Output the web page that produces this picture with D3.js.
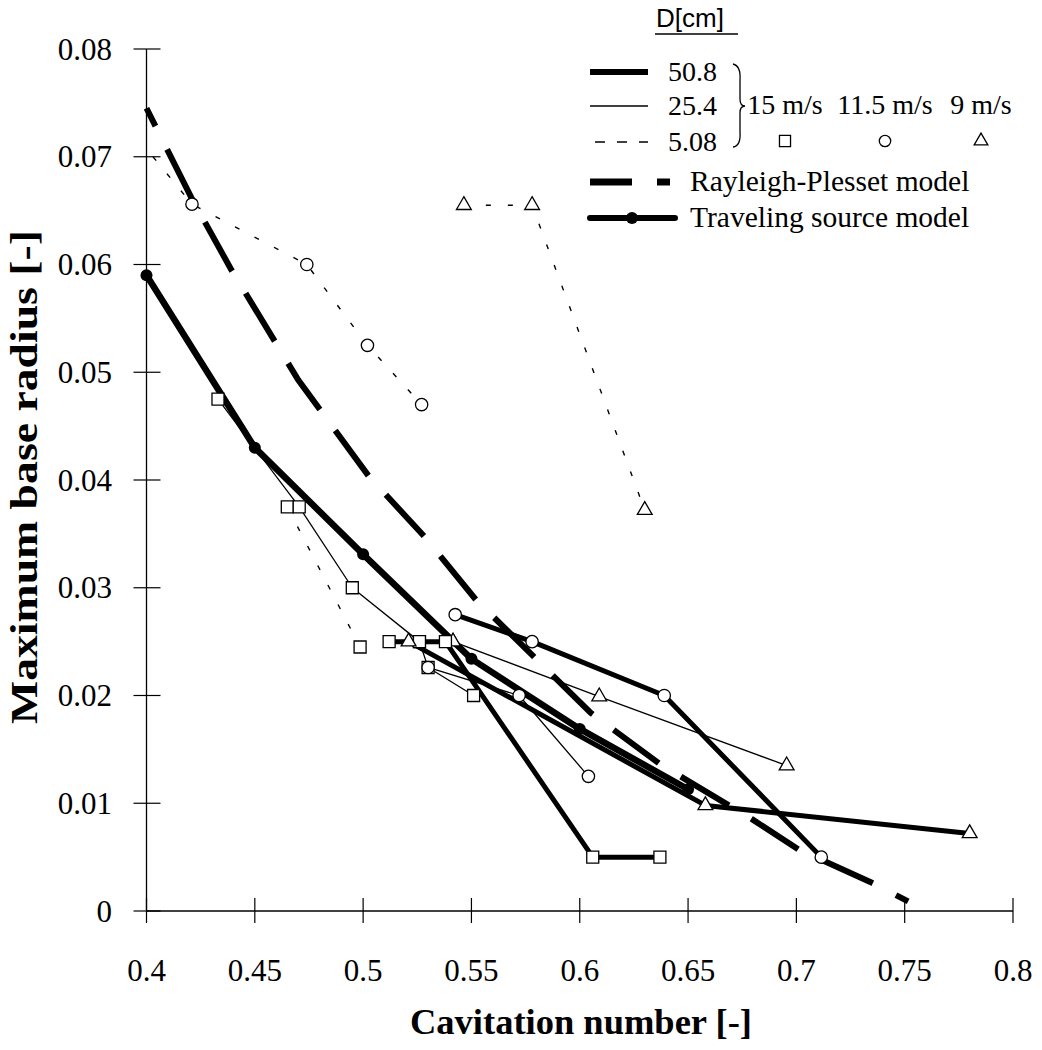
<!DOCTYPE html>
<html><head><meta charset="utf-8">
<script src="https://cdn.jsdelivr.net/npm/d3@7"></script>
<style>body{margin:0;background:#fff}</style>
</head><body><svg id="c" width="1042" height="1050"></svg>
<script>
// ---------- data ----------
const xTicks = [0.4,0.45,0.5,0.55,0.6,0.65,0.7,0.75,0.8];
const xTickLabels = ["0.4","0.45","0.5","0.55","0.6","0.65","0.7","0.75","0.8"];
const yTicks = [0,0.01,0.02,0.03,0.04,0.05,0.06,0.07,0.08];
const yTickLabels = ["0","0.01","0.02","0.03","0.04","0.05","0.06","0.07","0.08"];

// D = 50.8 cm
const sq508X = [0.512,0.526,0.538,0.606,0.637];
const sq508Y = [0.025,0.025,0.025,0.005,0.005];
const ci508X = [0.5425,0.578,0.639,0.7115];
const ci508Y = [0.0275,0.025,0.020,0.005];
const tr508X = [0.521,0.658,0.78];
const tr508Y = [0.025,0.0098,0.0072];
// D = 25.4 cm
const sq254X = [0.433,0.4705,0.495,0.526,0.530,0.551];
const sq254Y = [0.0475,0.0375,0.030,0.025,0.0226,0.020];
const ci254X = [0.530,0.572,0.604];
const ci254Y = [0.0226,0.020,0.0125];
const tr254X = [0.5415,0.609,0.6955];
const tr254Y = [0.025,0.0199,0.0135];
// D = 5.08 cm
const sq5X = [0.465,0.4986];
const sq5Y = [0.0375,0.0245];
const ci5X = [0.403,0.421,0.474,0.502,0.527];
const ci5Y = [0.0700,0.0656,0.060,0.0525,0.047];
const ci5Shown = [false,true,true,true,true];
const tr5X = [0.5465,0.578,0.630];
const tr5Y = [0.0655,0.0655,0.0372];
// models
const tsmX = [0.4,0.45,0.5,0.55,0.6,0.65];
const tsmY = [0.059,0.043,0.0331,0.0234,0.0169,0.0113];
const rpX = [0.400,0.4207,0.4392,0.470,0.5028,0.5281,0.552,0.5788,0.605,0.6373,0.6797,0.701,0.7341,0.7516];
const rpY = [0.0745,0.0662,0.0595,0.0493,0.0403,0.0348,0.0289,0.0236,0.0184,0.0136,0.0085,0.0057,0.0027,0.0009];

const diameters = ["50.8","25.4","5.08"];
const speeds = ["15 m/s","11.5 m/s","9 m/s"];
const modelNames = ["Rayleigh-Plesset model","Traveling source model"];
const legendTitle = "D[cm]";
const xTitle = "Cavitation number [-]";
const yTitle = "Maximum base radius [-]";

// ---------- setup ----------
const svg = d3.select("#c");
const x = d3.scaleLinear().domain([0.4,0.8]).range([146.5,1013]);
const y = d3.scaleLinear().domain([0,0.08]).range([911,49]);
const serif = "'Liberation Serif','Times New Roman',serif";
const sans = "'Liberation Sans',Arial,sans-serif";

const styles = {
  thick:{w:5, dash:null},
  thin:{w:1.3, dash:null},
  dotted:{w:1.4, dash:"5,17"}
};
const shapes = {square:d3.symbolSquare, circle:d3.symbolCircle, triangle:d3.symbolTriangle};
const shapeSize = {square:144, circle:120, triangle:95};

const zip = (xs,ys)=>xs.map((v,i)=>[v,ys[i]]);
const series = [
  {pts:zip(sq5X,sq5Y), st:"dotted", sh:"square"},
  {pts:zip(ci5X,ci5Y), st:"dotted", sh:"circle", shown:ci5Shown},
  {pts:zip(tr5X,tr5Y), st:"dotted", sh:"triangle"},
  {pts:zip(sq254X,sq254Y), st:"thin", sh:"square"},
  {pts:zip(ci254X,ci254Y), st:"thin", sh:"circle"},
  {pts:zip(tr254X,tr254Y), st:"thin", sh:"triangle"},
  {pts:zip(sq508X,sq508Y), st:"thick", sh:"square"},
  {pts:zip(ci508X,ci508Y), st:"thick", sh:"circle"},
  {pts:zip(tr508X,tr508Y), st:"thick", sh:"triangle"}
];

// ---------- axes ----------
const ax = svg.append("g");
ax.append("line").attr("x1",x(0.4)).attr("x2",x(0.8)).attr("y1",y(0)).attr("y2",y(0)).attr("stroke","#000").attr("stroke-width",1.3);
ax.append("line").attr("x1",x(0.4)).attr("x2",x(0.4)).attr("y1",y(0)).attr("y2",y(0.08)).attr("stroke","#000").attr("stroke-width",1.3);
ax.selectAll(".xt").data(xTicks).enter().append("line")
  .attr("x1",d=>x(d)).attr("x2",d=>x(d)).attr("y1",y(0)-13).attr("y2",y(0)+12)
  .attr("stroke","#000").attr("stroke-width",1.2);
ax.selectAll(".yt").data(yTicks).enter().append("line")
  .attr("x1",x(0.4)-13).attr("x2",x(0.4)+14).attr("y1",d=>y(d)).attr("y2",d=>y(d))
  .attr("stroke","#000").attr("stroke-width",1.2);
ax.selectAll(".xl").data(xTicks).enter().append("text")
  .attr("x",d=>x(d)).attr("y",y(0)+70).attr("text-anchor","middle")
  .attr("font-family",serif).attr("font-size",31).text((d,i)=>xTickLabels[i]);
ax.selectAll(".yl").data(yTicks).enter().append("text")
  .attr("x",112).attr("y",d=>y(d)).attr("dy","0.34em").attr("text-anchor","end")
  .attr("font-family",serif).attr("font-size",31).text((d,i)=>yTickLabels[i]);
svg.append("text").attr("x",410).attr("y",1034)
  .attr("textLength",342).attr("lengthAdjust","spacingAndGlyphs")
  .attr("font-family",serif).attr("font-weight","bold").attr("font-size",36).text(xTitle);
svg.append("text").attr("transform","translate(37,724) rotate(-90)")
  .attr("textLength",494).attr("lengthAdjust","spacingAndGlyphs")
  .attr("font-family",serif).attr("font-weight","bold").attr("font-size",37).text(yTitle);

// ---------- plot ----------
const line = d3.line().x(d=>x(d[0])).y(d=>y(d[1]));
const plot = svg.append("g");

// Rayleigh-Plesset model
plot.append("path").datum(zip(rpX,rpY)).attr("d",line).attr("fill","none")
  .attr("stroke","#000").attr("stroke-width",6).attr("stroke-dasharray","56,26").attr("stroke-dashoffset",36);
// Traveling source model
plot.append("path").datum(zip(tsmX,tsmY)).attr("d",line).attr("fill","none")
  .attr("stroke","#000").attr("stroke-width",6.5).attr("stroke-linejoin","round");
plot.selectAll(".tsm").data(zip(tsmX,tsmY)).enter().append("circle")
  .attr("cx",d=>x(d[0])).attr("cy",d=>y(d[1])).attr("r",6).attr("fill","#000");

series.forEach(s=>{
  const st = styles[s.st];
  plot.append("path").datum(s.pts).attr("d",line).attr("fill","none")
    .attr("stroke","#000").attr("stroke-width",st.w).attr("stroke-linejoin","round")
    .attr("stroke-dasharray",st.dash);
});
series.forEach(s=>{
  const pts = s.pts.filter((p,i)=>!s.shown || s.shown[i]);
  plot.selectAll(null).data(pts).enter().append("path")
    .attr("transform",d=>`translate(${x(d[0])},${y(d[1])})`)
    .attr("d",d3.symbol().type(shapes[s.sh]).size(shapeSize[s.sh]))
    .attr("fill","#fff").attr("stroke","#000").attr("stroke-width",1.3);
});

// ---------- legend ----------
const lg = svg.append("g");
lg.append("text").attr("x",656).attr("y",27).attr("font-family",sans).attr("font-size",26).text(legendTitle);
lg.append("line").attr("x1",655).attr("x2",738).attr("y1",34).attr("y2",34).attr("stroke","#000").attr("stroke-width",1.3);
const legRows = [{st:"thick",y:72},{st:"thin",y:106},{st:"dotted",y:142}];
legRows.forEach((r,i)=>{
  const st = styles[r.st];
  lg.append("line").attr("x1",r.st==="dotted"?595:590).attr("x2",648).attr("y1",r.y).attr("y2",r.y)
    .attr("stroke","#000").attr("stroke-width",r.st==="thick"?6:st.w)
    .attr("stroke-dasharray",r.st==="dotted"?"10,12":null);
  lg.append("text").attr("x",668).attr("y",r.y+9).attr("font-family",serif).attr("font-size",28).text(diameters[i]);
});
lg.append("path").attr("d","M733,64 Q741,66 740,80 L740,99 Q740,106 745,106 Q740,106 740,113 L740,132 Q741,146 733,147")
  .attr("fill","none").attr("stroke","#000").attr("stroke-width",1.3);
const spX = [785,885,981];
const spShapes = ["square","circle","triangle"];
speeds.forEach((s,i)=>{
  lg.append("text").attr("x",spX[i]).attr("y",114).attr("text-anchor","middle")
    .attr("font-family",serif).attr("font-size",28).text(s);
  lg.append("path").attr("transform",`translate(${spX[i]},141)`)
    .attr("d",d3.symbol().type(shapes[spShapes[i]]).size(shapeSize[spShapes[i]]*0.85))
    .attr("fill","#fff").attr("stroke","#000").attr("stroke-width",1.3);
});
lg.append("line").attr("x1",590).attr("x2",670).attr("y1",182).attr("y2",182)
  .attr("stroke","#000").attr("stroke-width",7).attr("stroke-dasharray","42,25,13,50");
lg.append("text").attr("x",690).attr("y",191).attr("font-family",serif).attr("font-size",29.5).text(modelNames[0]);
lg.append("line").attr("x1",590).attr("x2",675).attr("y1",218).attr("y2",218)
  .attr("stroke","#000").attr("stroke-width",6).attr("stroke-linecap","round");
lg.append("circle").attr("cx",632).attr("cy",218).attr("r",6).attr("fill","#000");
lg.append("text").attr("x",690).attr("y",227).attr("font-family",serif).attr("font-size",29.5).text(modelNames[1]);
</script></body></html>
